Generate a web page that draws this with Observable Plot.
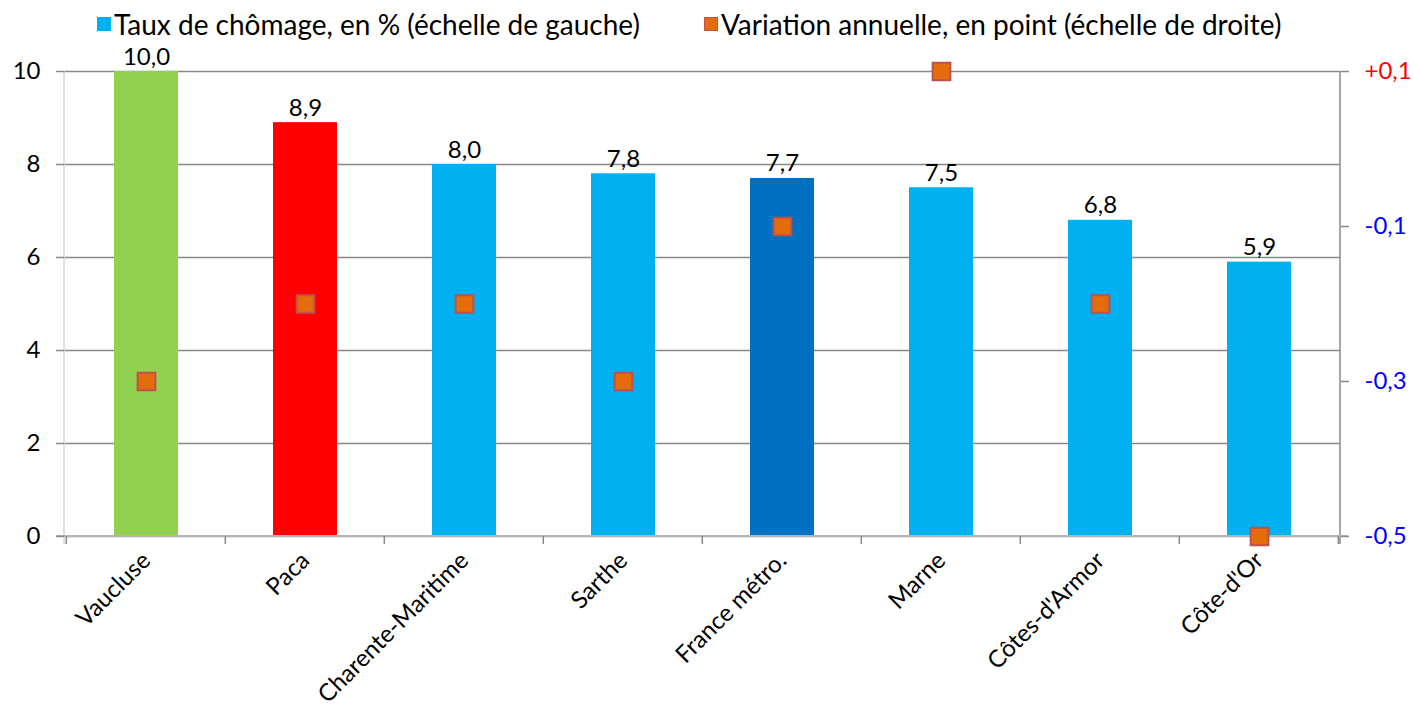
<!DOCTYPE html>
<html>
<head>
<meta charset="utf-8">
<script src="https://cdn.jsdelivr.net/npm/d3@7"></script>
<script src="https://cdn.jsdelivr.net/npm/@observablehq/plot@0.6"></script>
<style>
  body { margin: 0; background: #fff; font-family: Lato, "Open Sans", sans-serif; }
  #legend { height: 40px; display: flex; align-items: center; padding-left: 97px; font-size: 28px; line-height: 1; color: #000; box-sizing: border-box; padding-top: 8px; white-space: nowrap; }
  .item { display: flex; align-items: center; margin-right: 64px; }
  .sw { width: 14px; height: 14px; margin-right: 3px; box-sizing: border-box; }
</style>
</head>
<body>
<div id="legend">
  <div class="item"><span class="sw" style="background:#00B0F0"></span><span>Taux de chômage, en % (échelle de gauche)</span></div>
  <div class="item"><span class="sw" style="background:#E46C0A;border:1.5px solid #C0504D"></span><span>Variation annuelle, en point (échelle de droite)</span></div>
</div>
<div id="chart"></div>
<script>
const categories = ["Vaucluse", "Paca", "Charente-Maritime", "Sarthe", "France métro.", "Marne", "Côtes-d'Armor", "Côte-d'Or"];
const rates = [10.0, 8.9, 8.0, 7.8, 7.7, 7.5, 6.8, 5.9];
const changes = [-0.3, -0.2, -0.2, -0.3, -0.1, 0.1, -0.2, -0.5];
const barColors = ["#92D050", "#FF0000", "#00B0F0", "#00B0F0", "#0070C0", "#00B0F0", "#00B0F0", "#00B0F0"];
const leftTicks = [0, 2, 4, 6, 8, 10];
const leftDomain = [0, 10];
const rightTicks = [-0.5, -0.3, -0.1, 0.1];
const rightDomain = [-0.5, 0.1];

const toLeft = v => leftDomain[0] + (v - rightDomain[0]) / (rightDomain[1] - rightDomain[0]) * (leftDomain[1] - leftDomain[0]);
const fromLeft = y => rightDomain[0] + (y - leftDomain[0]) / (leftDomain[1] - leftDomain[0]) * (rightDomain[1] - rightDomain[0]);
const fmtComma = v => v.toFixed(1).replace(".", ",");
const fmtSigned = v => { const r = Math.round(v * 10) / 10; return (r > 0 ? "+" : r < 0 ? "-" : "") + Math.abs(r).toFixed(1).replace(".", ","); };

const data = categories.map((c, i) => ({cat: c, rate: rates[i], change: changes[i], color: barColors[i]}));
const PAD = 0.6;
const grey = "#898989";

function frameLines(index, scales, values, dims) {
  const {marginLeft: l, marginRight: r, marginTop: t, marginBottom: b, width, height} = dims;
  const xr = width - r, yb = height - b;
  const x = scales.x;
  const step = x(categories[1]) - x(categories[0]);
  const bounds = categories.map(c => x(c) - step * PAD / 2);
  bounds.push(x(categories[categories.length - 1]) + step * (1 - PAD) + step * PAD / 2);
  const g = d3.create("svg:g");
  g.append("line").attr("x1", l).attr("x2", l).attr("y1", t).attr("y2", yb + 8).attr("stroke", "#d4d4d4").attr("stroke-width", 1.5);
  g.append("line").attr("x1", xr).attr("x2", xr).attr("y1", t).attr("y2", yb + 8).attr("stroke", grey).attr("stroke-width", 1.5);
  g.append("line").attr("x1", l - 8).attr("x2", xr + 8).attr("y1", yb).attr("y2", yb).attr("stroke", "#b5b5b5").attr("stroke-width", 2);
  for (const bx of bounds) {
    g.append("line").attr("x1", bx).attr("x2", bx).attr("y1", yb).attr("y2", yb + 8).attr("stroke", grey).attr("stroke-width", 1.5);
  }
  return g.node();
}

const chart = Plot.plot({
  width: 1414,
  height: 674,
  marginTop: 31,
  marginBottom: 178,
  marginLeft: 64,
  marginRight: 74,
  style: {fontFamily: "Lato, 'Open Sans', sans-serif", fontSize: "24px", color: "#000", background: "#fff", overflow: "visible"},
  x: {domain: categories, paddingInner: PAD, paddingOuter: PAD / 2, label: null},
  y: {domain: leftDomain, label: null},
  marks: [
    Plot.gridY(leftTicks, {stroke: grey, strokeOpacity: 1, strokeWidth: 1.5}),
    Plot.barY(data, {x: "cat", y: "rate", fill: "color"}),
    frameLines,
    Plot.axisY({anchor: "left", ticks: leftTicks, tickSize: 8, tickPadding: 16, stroke: grey, strokeWidth: 1.5, fontSize: 24, tickFormat: d => String(d), label: null}),
    Plot.axisY(rightTicks.map(toLeft), {anchor: "right", tickSize: 8, tickPadding: 16, stroke: grey, strokeWidth: 1.5, fontSize: 24,
      tickFormat: d => fmtSigned(fromLeft(d)), fill: d => fromLeft(d) > 0 ? "#FF0000" : "#0000FF", label: null}),
    Plot.axisX({tickRotate: -45, tickSize: 0, tickPadding: 20, fontSize: 24, label: null}),
    Plot.text(data, {x: "cat", y: "rate", text: d => fmtComma(d.rate), lineAnchor: "bottom", dy: -7, fontSize: 24, fill: "#000"}),
    Plot.dot(data, {x: "cat", y: d => toLeft(d.change), symbol: "square", r: 10, fill: "#E46C0A", stroke: "#C0504D", strokeWidth: 2})
  ]
});
document.getElementById("chart").appendChild(chart);
</script>
</body>
</html>
